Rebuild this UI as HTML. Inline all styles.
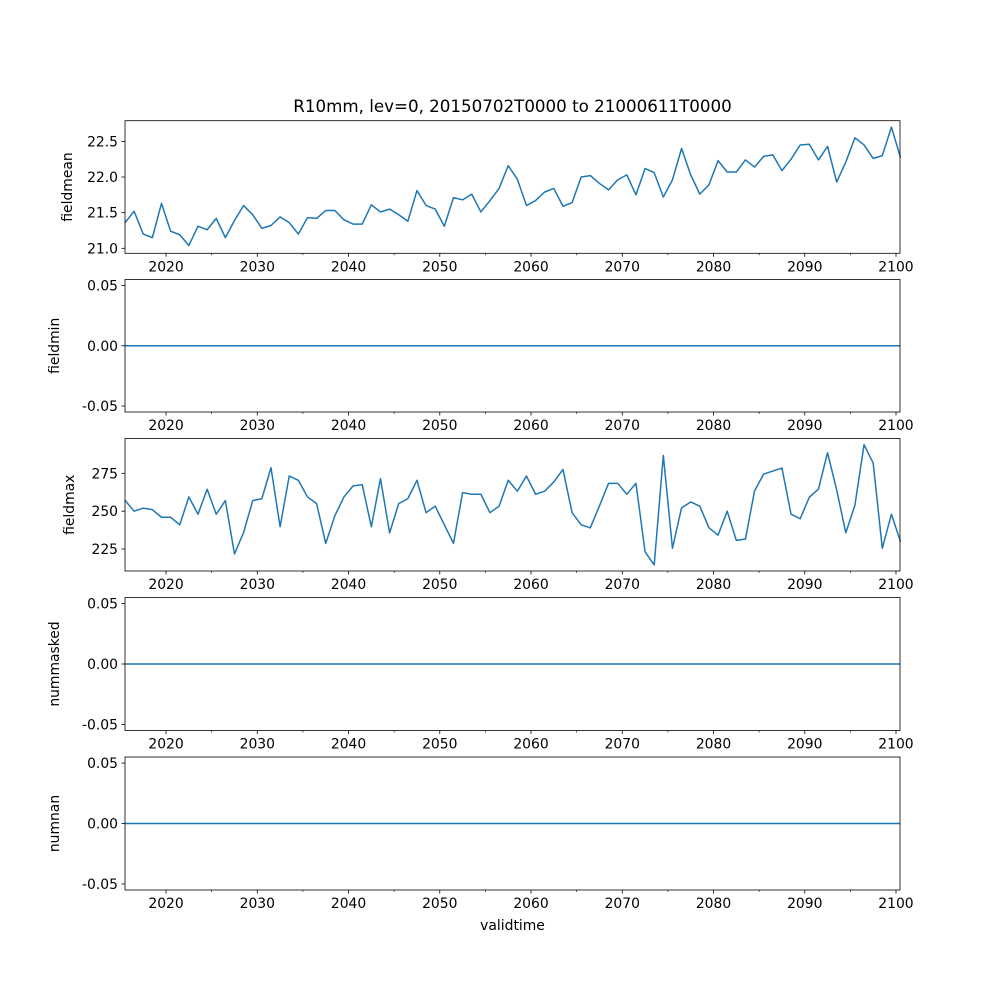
<!DOCTYPE html>
<html><head><meta charset="utf-8"><style>
body{margin:0;background:#fff}
svg{display:block}
text{font-family:"DejaVu Sans","Liberation Sans",sans-serif;fill:#000}
</style></head><body>
<svg id="chart" width="1000" height="1000" xmlns="http://www.w3.org/2000/svg">
<rect width="1000" height="1000" fill="#fff"/>
<text x="512.5" y="112" font-size="16.7" text-anchor="middle">R10mm, lev=0, 20150702T0000 to 21000611T0000</text>
<text x="512.5" y="930" font-size="13.9" text-anchor="middle">validtime</text>
</svg>
<script>
const fieldmeanValues=[21.36,21.52,21.20,21.15,21.63,21.24,21.19,21.04,21.31,21.26,21.42,21.15,21.39,21.60,21.47,21.28,21.32,21.44,21.36,21.20,21.43,21.42,21.53,21.53,21.40,21.34,21.34,21.61,21.51,21.55,21.47,21.38,21.81,21.60,21.55,21.31,21.71,21.68,21.76,21.51,21.67,21.84,22.16,21.97,21.60,21.67,21.79,21.84,21.59,21.64,22.00,22.02,21.91,21.82,21.96,22.03,21.75,22.12,22.06,21.72,21.96,22.40,22.03,21.76,21.89,22.23,22.07,22.07,22.24,22.14,22.29,22.31,22.09,22.25,22.45,22.46,22.24,22.43,21.93,22.21,22.55,22.45,22.26,22.30,22.70,22.27];
const fieldmaxValues=[257.2,250,252,251,246,246,241,259.4,248,264.5,248,257,221.7,236,257,258.3,278.7,239.7,273.2,270.4,259.4,255,228.7,247,259.4,266.7,267.5,239.7,271.5,235.7,255,258.3,270.4,249,253.3,241,228.7,262.3,261.2,261.2,249,253.3,270.4,263.2,273.2,261.2,263.2,269.3,277.6,249,241,239,253.5,268.4,268.4,261.2,268.4,223.2,214.5,286.8,225.5,252.2,256.1,253.3,239,234.2,250,230.7,231.6,263.4,274.5,276.5,278.5,248,245,259.2,264.5,288.6,264,235.7,254,293.9,281.8,225.5,248,229.8];
const xTickYears=[2020,2030,2040,2050,2060,2070,2080,2090,2100];
const xMinorYears=[2025,2035,2045,2055,2065,2075,2085,2095];
const meanTicks=[21.0,21.5,22.0,22.5];
const maxTicks=[225,250,275];
const zeroTicks=[-0.05,0.00,0.05];
const startYear=2015.5, endYear=2100.44;

const svg=document.getElementById('chart');
const NS='http://www.w3.org/2000/svg';
const L=125,R=900;
function xs(yr){return L+(yr-startYear)/(endYear-startYear)*(R-L);}
function mk(tag,attrs,parent){const e=document.createElementNS(NS,tag);for(const k in attrs)e.setAttribute(k,attrs[k]);(parent||svg).appendChild(e);return e;}

const panels=[
 {name:'fieldmean',top:120.7,bot:253.3,min:20.93,max:22.79,ticks:meanTicks,fmt:v=>v.toFixed(1),data:fieldmeanValues,lx:72},
 {name:'fieldmin',top:279.5,bot:412,min:-0.055,max:0.055,ticks:zeroTicks,fmt:v=>v.toFixed(2),data:null,lx:59},
 {name:'fieldmax',top:438.5,bot:571,min:210.5,max:298,ticks:maxTicks,fmt:v=>String(v),data:fieldmaxValues,lx:74},
 {name:'nummasked',top:597.5,bot:730.5,min:-0.055,max:0.055,ticks:zeroTicks,fmt:v=>v.toFixed(2),data:null,lx:59},
 {name:'numnan',top:757,bot:890,min:-0.055,max:0.055,ticks:zeroTicks,fmt:v=>v.toFixed(2),data:null,lx:59}
];
panels.forEach(p=>{
  const g=mk('g',{});
  
  
  const ys=v=>p.bot-(v-p.min)/(p.max-p.min)*(p.bot-p.top);
  if(p.data){
    const pts=p.data.map((v,i)=>xs(startYear+i).toFixed(2)+','+ys(v).toFixed(2)).join(' ');
    const pl=mk('polyline',{points:pts,fill:'none',stroke:'#1f77b4','stroke-width':1.5,'stroke-linejoin':'round'},g);
    
    
  } else {
    const ln=mk('line',{x1:L,x2:R,y1:ys(0),y2:ys(0),stroke:'#1f77b4','stroke-width':1.5},g);
    
    
  }
  const fr=mk('rect',{x:L,y:p.top,width:R-L,height:p.bot-p.top,fill:'none',stroke:'#000','stroke-width':0.8},g);
  
  
  p.ticks.forEach(t=>{
    const y=ys(t);
    mk('line',{x1:L-3.5,x2:L,y1:y,y2:y,stroke:'#000','stroke-width':0.8},g);
    const tx=mk('text',{x:L-7,y:y+5,'font-size':13.9,'text-anchor':'end'},g);
    tx.textContent=p.fmt(t);
    
    
  });
  xTickYears.forEach(yr=>{
    const x=xs(yr);
    mk('line',{x1:x,x2:x,y1:p.bot,y2:p.bot+3.5,stroke:'#000','stroke-width':0.8},g);
    const tx=mk('text',{x:x,y:p.bot+18,'font-size':13.9,'text-anchor':'middle'},g);
    tx.textContent=String(yr);
    
    
  });
  xMinorYears.forEach(yr=>{
    const x=xs(yr);
    mk('line',{x1:x,x2:x,y1:p.bot,y2:p.bot+2,stroke:'#000','stroke-width':0.6},g);
  });
  const cy=(p.top+p.bot)/2;
  const yl=mk('text',{x:p.lx,y:cy,'font-size':13.9,'text-anchor':'middle',transform:'rotate(-90 '+p.lx+' '+cy+')'},g);
  yl.textContent=p.name;
  
  
});
</script>
</body></html>
